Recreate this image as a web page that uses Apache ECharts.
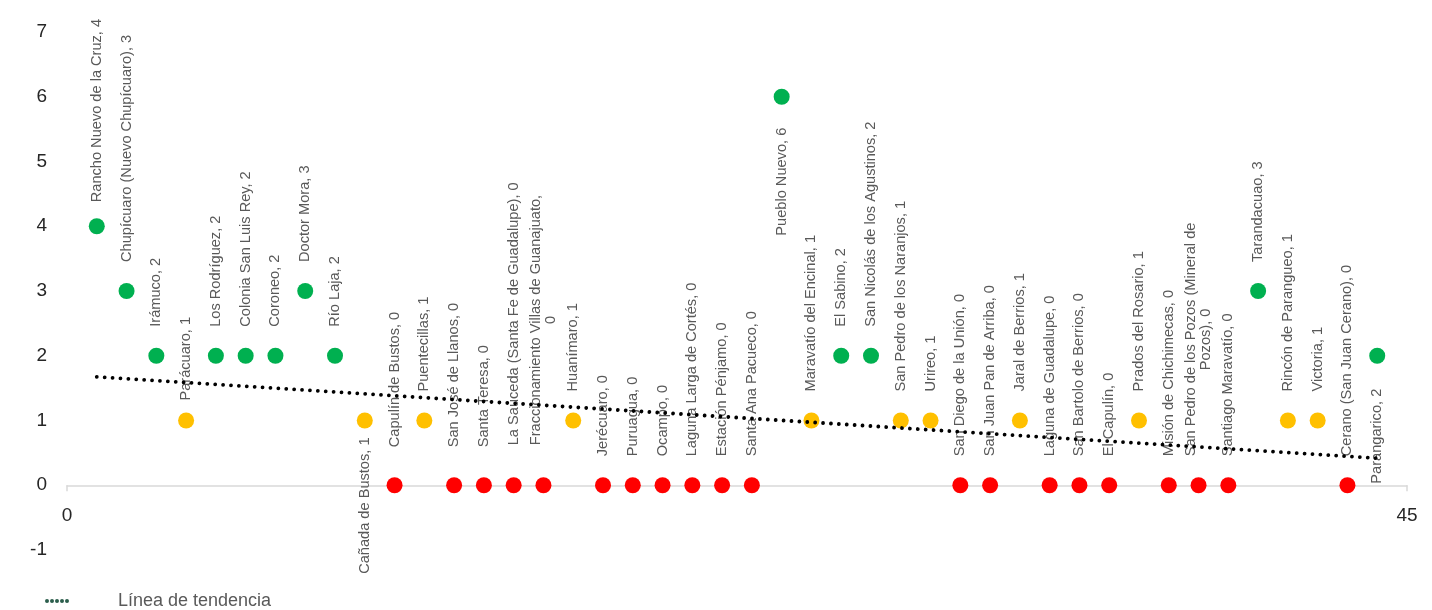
<!DOCTYPE html>
<html>
<head>
<meta charset="utf-8">
<script src="https://cdn.jsdelivr.net/npm/echarts@6/dist/echarts.min.js"></script>
<style>
  html, body { margin: 0; padding: 0; background: #ffffff; }
  #grafica { width: 1432px; height: 610px; }
</style>
</head>
<body>
<div id="grafica"></div>
<script>
// Posición de cada localidad en el eje X
const posiciones = [1, 2, 3, 4, 5, 6, 7, 8, 9, 10, 11, 12, 13, 14, 15, 16, 17, 18, 19, 20, 21, 22,
  23, 24, 25, 26, 27, 28, 29, 30, 31, 32, 33, 34, 35, 36, 37, 38, 39, 40, 41, 42, 43, 44];

const localidades = [
  'Rancho Nuevo de la Cruz', 'Chupícuaro (Nuevo Chupícuaro)', 'Irámuco', 'Parácuaro',
  'Los Rodríguez', 'Colonia San Luis Rey', 'Coroneo', 'Doctor Mora', 'Río Laja',
  'Cañada de Bustos', 'Capulín de Bustos', 'Puentecillas', 'San José de Llanos',
  'Santa Teresa', 'La Sauceda (Santa Fe de Guadalupe)', 'Fraccionamiento Villas de Guanajuato',
  'Huanímaro', 'Jerécuaro', 'Puruagua', 'Ocampo', 'Laguna Larga de Cortés',
  'Estación Pénjamo', 'Santa Ana Pacueco', 'Pueblo Nuevo', 'Maravatío del Encinal',
  'El Sabino', 'San Nicolás de los Agustinos', 'San Pedro de los Naranjos', 'Urireo',
  'San Diego de la Unión', 'San Juan Pan de Arriba', 'Jaral de Berrios',
  'Laguna de Guadalupe', 'San Bartolo de Berrios', 'El Capulín', 'Prados del Rosario',
  'Misión de Chichimecas', 'San Pedro de los Pozos (Mineral de Pozos)', 'Santiago Maravatío',
  'Tarandacuao', 'Rincón de Parangueo', 'Victoria', 'Cerano (San Juan Cerano)', 'Parangarico'
];

const valores = [4, 3, 2, 1, 2, 2, 2, 3, 2, 1, 0, 1, 0, 0, 0, 0, 1, 0, 0, 0, 0, 0,
  0, 6, 1, 2, 2, 1, 1, 0, 0, 1, 0, 0, 0, 1, 0, 0, 0, 3, 1, 1, 0, 2];

const rangoX = [0, 45];
const rangoY = [-1, 7];
const nombreTendencia = 'Línea de tendencia';

const FUENTE = '"Liberation Sans", Arial, Helvetica, sans-serif';
const GRIS_TEXTO = '#595959';

// Color del marcador según el valor
function colorDe(v) {
  if (v === 0) return '#FF0000';
  if (v === 1) return '#FFC000';
  return '#00B050';
}

// Recta de mínimos cuadrados
function ajusteLineal(xs, ys) {
  const n = xs.length;
  let sx = 0, sy = 0, sxx = 0, sxy = 0;
  for (let i = 0; i < n; i++) {
    sx += xs[i]; sy += ys[i]; sxx += xs[i] * xs[i]; sxy += xs[i] * ys[i];
  }
  const m = (n * sxy - sx * sy) / (n * sxx - sx * sx);
  const b = (sy - m * sx) / n;
  return { m, b };
}

// Colocación de las etiquetas (separación desde el centro del marcador)
const RADIO = 8;
const AJUSTE_ARRIBA = 2;
const SEPARACION_BASE = 31;
const etiquetasAbajo = { 10: 17, 24: 31, 44: 33 };
const separacionArriba = { 1: 26, 4: 22, 11: 40, 13: 40, 14: 40, 15: 42, 16: 42 };
// Palabras finales que pasan a una segunda línea
const palabrasSegundaLinea = { 16: 1, 38: 2 };

const puntos = posiciones.map((x, i) => {
  const v = valores[i];
  const texto = localidades[i] + ', ' + v;
  let contenido = texto;
  const n = palabrasSegundaLinea[x];
  if (n) {
    const w = texto.split(' ');
    contenido = '{centro|' + w.slice(0, w.length - n).join(' ') + '}\n{centro|' + w.slice(w.length - n).join(' ') + '}';
  }
  const abajo = etiquetasAbajo[x] != null;
  const sep = abajo
    ? etiquetasAbajo[x] - RADIO
    : (separacionArriba[x] != null ? separacionArriba[x] : SEPARACION_BASE) - RADIO - AJUSTE_ARRIBA;
  return {
    name: localidades[i],
    value: [x, v],
    itemStyle: { color: colorDe(v), opacity: 1 },
    label: {
      position: abajo ? 'bottom' : 'top',
      align: abajo ? 'right' : 'left',
      distance: sep,
      formatter: () => contenido
    }
  };
});

const ajuste = ajusteLineal(posiciones, valores);
const x0 = posiciones[0], x1 = posiciones[posiciones.length - 1];
const tendencia = [[x0, ajuste.b + ajuste.m * x0], [x1, ajuste.b + ajuste.m * x1]];

// Icono de la leyenda: cinco puntos
const iconoPuntos = 'path://' + [0, 5, 10, 15, 20].map(c =>
  'M' + c + ',2a2,2 0 1,0 4,0a2,2 0 1,0 -4,0Z').join(' ');

const grafica = echarts.init(document.getElementById('grafica'), null, { renderer: 'canvas' });

grafica.setOption({
  animation: false,
  backgroundColor: '#ffffff',
  textStyle: { fontFamily: FUENTE },
  grid: { left: 67, right: 25, top: 32, bottom: 60 },
  legend: {
    left: 40,
    top: 587,
    itemWidth: 24,
    itemHeight: 4,
    selectedMode: false,
    data: [{
      name: nombreTendencia,
      icon: iconoPuntos,
      itemStyle: { color: '#2b5e4c', borderWidth: 0 },
      lineStyle: { width: 0 }
    }],
    textStyle: { color: GRIS_TEXTO, fontSize: 18, fontFamily: FUENTE, padding: [0, 0, 0, 44] }
  },
  xAxis: {
    type: 'value',
    min: rangoX[0],
    max: rangoX[1],
    interval: rangoX[1] - rangoX[0],
    axisLine: { show: true, onZero: true, lineStyle: { color: '#d9d9d9', width: 1.5 } },
    axisTick: { show: true, length: 6, lineStyle: { color: '#d9d9d9', width: 1.5 } },
    axisLabel: { fontSize: 19, color: '#262626', margin: -44, fontFamily: FUENTE },
    splitLine: { show: false }
  },
  yAxis: {
    type: 'value',
    min: rangoY[0],
    max: rangoY[1],
    interval: 1,
    axisLine: { show: false },
    axisTick: { show: false },
    axisLabel: { fontSize: 19, color: '#262626', margin: 20, fontFamily: FUENTE },
    splitLine: { show: false }
  },
  series: [
    {
      type: 'scatter',
      name: 'Localidades',
      symbol: 'circle',
      symbolSize: 16,
      z: 3,
      data: puntos,
      itemStyle: { opacity: 1 },
      label: {
        show: true,
        rotate: 90,
        verticalAlign: 'middle',
        fontSize: 14.6,
        color: GRIS_TEXTO,
        fontFamily: FUENTE,
        rich: {
          centro: { align: 'center', fontSize: 14.6, color: GRIS_TEXTO, fontFamily: FUENTE }
        }
      },
      emphasis: { disabled: true }
    },
    {
      type: 'line',
      name: nombreTendencia,
      data: tendencia,
      symbol: 'none',
      silent: true,
      z: 4,
      lineStyle: { color: '#000000', width: 3.8, type: [0.01, 7.9], cap: 'round' },
      itemStyle: { color: '#2b5e4c' }
    }
  ]
});
</script>
</body>
</html>
